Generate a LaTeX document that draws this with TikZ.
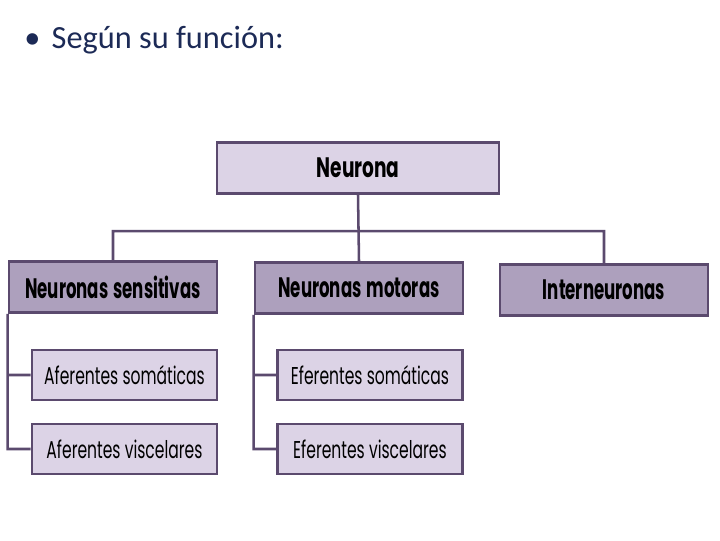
\documentclass[tikz,border=0pt]{standalone}
\usepackage{fontspec}
\setmainfont{Carlito}
\newfontfamily\topfont[FakeStretch=0.66]{Poppins}
\newfontfamily\groupfont[FakeStretch=0.59,WordSpace=1.4]{Poppins}
\newfontfamily\leaffont[FakeStretch=0.64]{Poppins}
\usetikzlibrary{positioning}

\definecolor{edgepurple}{HTML}{5B4A6E}
\definecolor{lightlilac}{HTML}{DCD3E6}
\definecolor{midlilac}{HTML}{ADA0BD}
\definecolor{titleblue}{HTML}{1C2A56}

\begin{document}
\begin{tikzpicture}[x=0.025cm,y=-0.025cm]

\tikzstyle{every node}=[inner sep=0pt,anchor=center];
\tikzset{
  box/.style={draw=edgepurple,line width=1.8pt,minimum height=1.28cm},
  toplevel/.style={box,fill=lightlilac,minimum width=7.05cm,font=\topfont\bfseries\fontsize{20}{22}\selectfont},
  group/.style={box,fill=midlilac,minimum width=5.2cm,font=\groupfont\bfseries\fontsize{20}{22}\selectfont},
  leaf/.style={box,fill=lightlilac,minimum width=4.63cm,minimum height=1.25cm,font=\leaffont\fontsize{17.3}{20}\selectfont},
  link/.style={draw=edgepurple,line width=1.8pt}
}

\useasboundingbox (0,0) rectangle (720,540);

% Title line
\node[anchor=west,text=titleblue,font=\fontsize{23}{27}\selectfont] (title) at (24,40) {•\hspace{0.35em}Según su función:};

% Boxes
\node[toplevel] (neurona) at (358,168) {Neurona};
\node[group] (sens) at (113,287) {Neuronas sensitivas};
\node[group] (mot) at (359,288) {Neuronas motoras};
\node[group] (inter) at (604,290) {Interneuronas};
\node[leaf] (afsom) at (124.5,375) {Aferentes somáticas};
\node[leaf] (afvis) at (124.5,449) {Aferentes viscelares};
\node[leaf] (efsom) at (370,375) {Eferentes somáticas};
\node[leaf] (efvis) at (370,449) {Eferentes viscelares};

% Connectors
\path[link]
  (neurona.south) -- (mot.north)
  (sens.north) -- ++(0,-29) -| (inter.north)
  (sens.south west) |- (afsom.west)
  (sens.south west) |- (afvis.west)
  (mot.south west) |- (efsom.west)
  (mot.south west) |- (efvis.west);

\end{tikzpicture}
\end{document}
